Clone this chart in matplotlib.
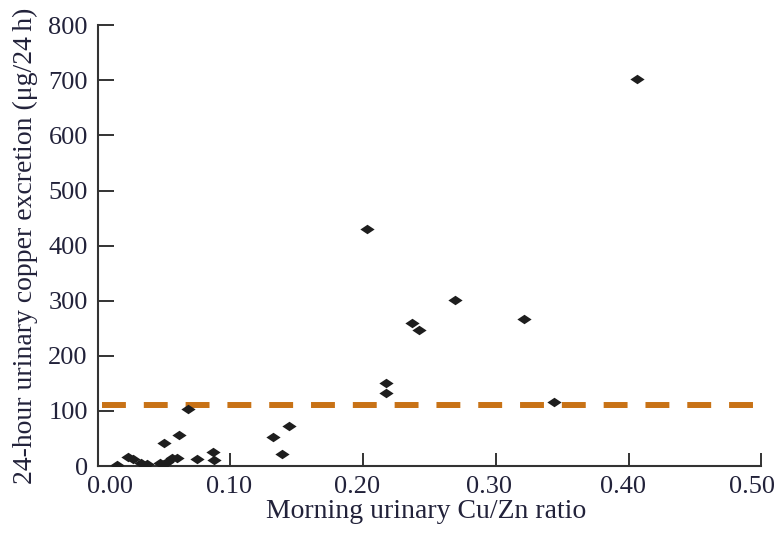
import numpy as np
import matplotlib
matplotlib.use('Agg')
import matplotlib.pyplot as plt
from matplotlib.path import Path
from matplotlib.transforms import ScaledTranslation

plt.rcParams['font.family'] = ['Liberation Serif', 'DejaVu Serif']

# morning urinary Cu/Zn ratio vs 24-h urinary copper (ug/24h)
cu_zn = [0.015, 0.023, 0.027, 0.033, 0.037, 0.047, 0.050, 0.052, 0.056, 0.060,
         0.050, 0.061, 0.068, 0.075, 0.087, 0.088,
         0.132, 0.139, 0.144, 0.203, 0.217, 0.217, 0.237, 0.242,
         0.269, 0.321, 0.344, 0.406]
copper = [2, 16, 12, 6, 4, 6, 4, 8, 14, 14,
          41, 57, 103, 12, 26, 11,
          53, 22, 72, 430, 150, 133, 259, 247,
          302, 266, 117, 702]
threshold = 110
xticks = [0.0, 0.1, 0.2, 0.3, 0.4, 0.5]
yticks = [0, 100, 200, 300, 400, 500, 600, 700, 800]

fig = plt.figure(figsize=(7.82, 5.33), dpi=100)
ax = fig.add_axes([0.1247, 0.1257, 0.849, 0.827])

# flattened diamond marker
diamond = Path([(0, 0.8), (1.2, 0), (0, -0.8), (-1.2, 0), (0, 0.8)],
               [Path.MOVETO, Path.LINETO, Path.LINETO, Path.LINETO, Path.CLOSEPOLY])
ax.scatter(cu_zn, copper, marker=diamond, s=105, color='#1e1e1e', zorder=3, linewidths=0)

ax.plot([0.0035, 0.5], [threshold, threshold], color='#c87216', lw=4.3,
        dashes=(4, 3), solid_capstyle='butt', dash_capstyle='butt', zorder=2)

ax.set_xlim(0, 0.5)
ax.set_ylim(0, 800)
ax.set_xticks(xticks)
ax.set_xticklabels(['%.2f' % v for v in xticks])
ax.set_yticks(yticks)
for s in ['top', 'right']:
    ax.spines[s].set_visible(False)
for s in ['left', 'bottom']:
    ax.spines[s].set_color('#333333')
    ax.spines[s].set_linewidth(1.5)
ax.tick_params(axis='y', direction='in', length=11.5, width=1.4, color='#333333',
               labelsize=19, labelcolor='#22223a', pad=7)
ax.tick_params(axis='x', direction='in', length=9.5, width=1.4, color='#333333',
               labelsize=19, labelcolor='#22223a', pad=7)

# nudge x tick labels like in the original (first one right, last one left)
shifts = [12, -1, -6, -7, -6, -9]
for lab, dx in zip(ax.get_xticklabels(), shifts):
    lab.set_transform(lab.get_transform() + ScaledTranslation(dx / 100, 0, fig.dpi_scale_trans))

ax.set_xlabel('Morning urinary Cu/Zn ratio', fontsize=20, color='#22223a')
ax.set_ylabel('24-hour urinary copper excretion (\u03bcg/24\u2009h)', fontsize=20,
              color='#22223a')
ax.xaxis.set_label_coords(0.495, -0.075)
ax.yaxis.set_label_coords(-0.09, 0.5)

fig.savefig('out.png', dpi=100)
